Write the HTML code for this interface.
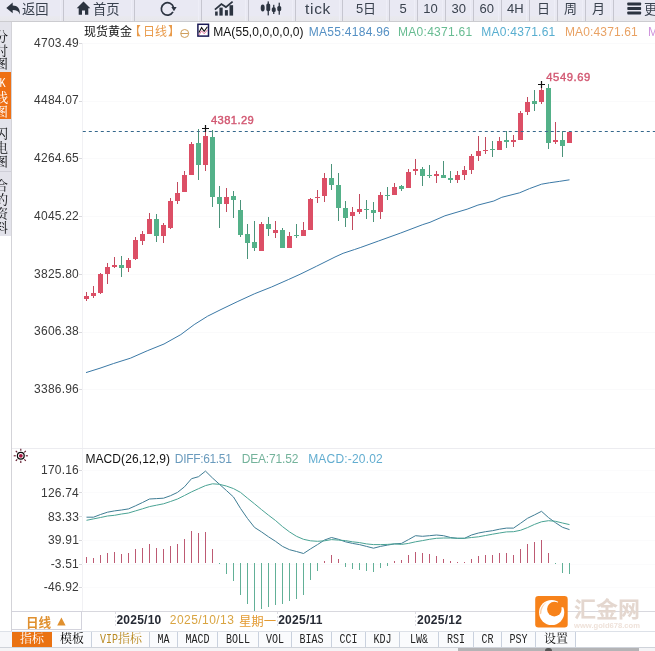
<!DOCTYPE html>
<html lang="zh"><head><meta charset="utf-8"><title>现货黄金 日线</title>
<style>
html,body{margin:0;padding:0;background:#fff}
body{font-family:"Liberation Sans",sans-serif;}
#root{position:relative;width:655px;height:651px;overflow:hidden;background:#fff;will-change:transform;font-family:"Liberation Sans",sans-serif;color:#333}
#root *{box-sizing:border-box}
.a{position:absolute;white-space:nowrap;line-height:1}
.g{position:absolute;overflow:visible}
.sep{position:absolute;top:0;width:1px;height:21px;background:#c6c6d0;box-shadow:-3px 0 0 #eeeef7}
.ax{position:absolute;right:577px;font-size:12px;line-height:12px;color:#3a3a3a;white-space:nowrap}
.tab{position:absolute;top:632px;height:15px;border-right:1px solid #c9d1de;background:#fafbfd}
.tab span{position:absolute;left:0;right:0;top:2px;text-align:center;font-family:"Liberation Mono",monospace;font-size:12px;line-height:12px;color:#222;transform:scaleX(.833);white-space:nowrap}
.ts{font-family:"Liberation Sans","Noto Sans CJK SC",sans-serif}
.tf{font-family:"Liberation Serif","Noto Serif CJK SC",serif}
</style></head><body>
<div id="root">

<div class="a" style="left:0;top:0;width:655px;height:22px;background:linear-gradient(#e9e9f3 0,#e9e9f3 15.5px,#e9e9ef 16.5px,#e8e8ec 21px,#c9c9cd 21px,#cdcdd1 21.7px,#fff 22px)"></div>
<div class="sep" style="left:63px"></div>
<div class="sep" style="left:134px"></div>
<div class="sep" style="left:201px"></div>
<div class="sep" style="left:248px"></div>
<div class="sep" style="left:295px"></div>
<div class="sep" style="left:342px"></div>
<div class="sep" style="left:389px"></div>
<div class="sep" style="left:417px"></div>
<div class="sep" style="left:445px"></div>
<div class="sep" style="left:473px"></div>
<div class="sep" style="left:501px"></div>
<div class="sep" style="left:529px"></div>
<div class="sep" style="left:557px"></div>
<div class="sep" style="left:585px"></div>
<div class="sep" style="left:613px"></div>
<svg class="g" style="left:5px;top:1px" width="17" height="15" viewBox="0 0 17 15"><path fill="#2c3440" d="M1.3 7.0 L7.7 1.4 V4.6 C12.6 4.7 15.2 7.6 14.9 13.4 C13.6 10.2 11.6 9.0 7.7 9.0 V12.3 Z"/></svg>
<svg class="g" role="img" aria-label="返回" style="left:20.2px;top:-3.13px;" width="30.6" height="22.62" viewBox="-2 -16.63 30.6 22.62"><title>返回</title><text class="ts" x="0" y="0" font-size="13.3" fill="#3a424e">返回</text></svg>
<svg class="g" style="left:76px;top:1px" width="16" height="15" viewBox="0 0 16 15"><path fill="#2c3440" d="M7.5 0.6 L14.3 7.3 H12.3 V13.8 H9 V9.6 H6 V13.8 H2.7 V7.3 H0.7 Z"/></svg>
<svg class="g" role="img" aria-label="首页" style="left:90.6px;top:-3.13px;" width="30.6" height="22.62" viewBox="-2 -16.63 30.6 22.62"><title>首页</title><text class="ts" x="0" y="0" font-size="13.3" fill="#3a424e">首页</text></svg>
<svg class="g" style="left:158px;top:0px" width="20" height="18" viewBox="0 0 20 18"><path fill="none" stroke="#2c3440" stroke-width="1.7" d="M15.0 11.9 A6.2 6.2 0 1 1 15.6 7.6"/><path fill="#2c3440" d="M13.3 6.9 L18.6 6.9 L16.0 11.2 Z"/></svg>
<svg class="g" style="left:213px;top:0px" width="22" height="18" viewBox="213 0 22 18"><g fill="#2c3440"><rect x="215.1" y="11.5" width="2.6" height="4.1"/><rect x="219.4" y="7.6" width="3.3" height="8"/><rect x="224.9" y="10.1" width="3" height="5.5"/><rect x="229.5" y="5.2" width="3.6" height="10.4"/></g><path fill="none" stroke="#2c3440" stroke-width="1.8" d="M214.9 9.6 L221.4 4.1 L225.9 7.1 L232.6 1.6"/></svg>
<svg class="g" style="left:259px;top:0px" width="24" height="18" viewBox="259 0 24 18"><g fill="#2c3440"><ellipse cx="262.7" cy="8" rx="2" ry="3.4"/><rect x="267.6" y="1.4" width="1.3" height="14"/><rect x="266.3" y="3.4" width="3.9" height="7.8" rx="1.6"/><rect x="273.1" y="4.8" width="1.3" height="9.2"/><rect x="271.8" y="7.2" width="3.9" height="4.8" rx="1.6"/><rect x="278.6" y="2.7" width="1.3" height="12"/><rect x="277.3" y="6" width="3.9" height="5.2" rx="1.6"/></g></svg>
<div class="a" style="left:305px;top:0px;font-size:15.5px;line-height:17px;color:#3a424e;letter-spacing:.7px">tick</div>
<div class="a" style="left:356px;top:2px;font-size:13px;line-height:14px;color:#3a424e">5</div>
<svg class="g" role="img" aria-label="日" style="left:360.6px;top:-3px;" width="17" height="22.2" viewBox="-2 -16.3 17 22.2"><title>日</title><text class="ts" x="0" y="0" font-size="13" fill="#3a424e">日</text></svg>
<div class="a" style="left:403px;top:2px;width:40px;margin-left:-20px;text-align:center;font-size:13px;line-height:14px;color:#3a424e">5</div>
<div class="a" style="left:430.5px;top:2px;width:40px;margin-left:-20px;text-align:center;font-size:13px;line-height:14px;color:#3a424e">10</div>
<div class="a" style="left:458.7px;top:2px;width:40px;margin-left:-20px;text-align:center;font-size:13px;line-height:14px;color:#3a424e">30</div>
<div class="a" style="left:486.7px;top:2px;width:40px;margin-left:-20px;text-align:center;font-size:13px;line-height:14px;color:#3a424e">60</div>
<div class="a" style="left:507px;top:2px;font-size:13px;line-height:14px;color:#3a424e">4H</div>
<svg class="g" role="img" aria-label="日" style="left:535px;top:-3px;" width="17" height="22.2" viewBox="-2 -16.3 17 22.2"><title>日</title><text class="ts" x="0" y="0" font-size="13" fill="#3a424e">日</text></svg>
<svg class="g" role="img" aria-label="周" style="left:561.8px;top:-3px;" width="17" height="22.2" viewBox="-2 -16.3 17 22.2"><title>周</title><text class="ts" x="0" y="0" font-size="13" fill="#3a424e">周</text></svg>
<svg class="g" role="img" aria-label="月" style="left:590.4px;top:-3px;" width="17" height="22.2" viewBox="-2 -16.3 17 22.2"><title>月</title><text class="ts" x="0" y="0" font-size="13" fill="#3a424e">月</text></svg>
<svg class="g" style="left:627px;top:2px" width="15" height="13" viewBox="0 0 15 13"><g fill="#2c3440"><rect x="0.3" y="0.6" width="13.8" height="2.9" rx=".7"/><rect x="0.3" y="5.05" width="13.8" height="2.9" rx=".7"/><rect x="0.3" y="9.5" width="13.8" height="2.9" rx=".7"/></g></svg>
<svg class="g" role="img" aria-label="更" style="left:642.2px;top:-3.13px;" width="17.3" height="22.62" viewBox="-2 -16.63 17.3 22.62"><title>更</title><text class="ts" x="0" y="0" font-size="13.3" fill="#3a424e">更</text></svg>
<div class="a" style="left:0;top:22px;width:11px;height:214px;background:#e3e3eb"></div>
<div class="a" style="left:0;top:72px;width:11px;height:47px;background:#ee7014"></div>
<div class="a" style="left:0;top:171px;width:11px;height:1px;background:#cfcfd8"></div>
<div class="a" style="left:11px;top:22px;width:1px;height:626px;background:#d3d3d8"></div>
<svg class="g" role="img" aria-label="分时图" style="left:-7px;top:24.7px;" width="17" height="44.5" viewBox="-2 -16.3 17 44.5"><title>分时图</title><text class="tf" font-size="13" fill="#0c0d10"><tspan x="0" y="0">分</tspan><tspan x="0" y="13.5">时</tspan><tspan x="0" y="27">图</tspan></text></svg>
<svg class="g" role="img" aria-label="线图" style="left:-7px;top:85.7px;" width="17" height="31" viewBox="-2 -16.3 17 31"><title>线图</title><text class="tf" font-size="13" fill="#fff"><tspan x="0" y="0">线</tspan><tspan x="0" y="13.5">图</tspan></text></svg>
<div class="a" style="left:-1px;top:78px;font-family:'Liberation Mono',monospace;font-size:12px;color:#fff;transform:scaleX(.85)">K</div>
<svg class="g" role="img" aria-label="闪电图" style="left:-7px;top:121.7px;" width="17" height="46" viewBox="-2 -16.3 17 46"><title>闪电图</title><text class="tf" font-size="13" fill="#0c0d10"><tspan x="0" y="0">闪</tspan><tspan x="0" y="14">电</tspan><tspan x="0" y="28">图</tspan></text></svg>
<svg class="g" role="img" aria-label="合约资料" style="left:-7px;top:173.7px;" width="17" height="60" viewBox="-2 -16.3 17 60"><title>合约资料</title><text class="tf" font-size="13" fill="#0c0d10"><tspan x="0" y="0">合</tspan><tspan x="0" y="14">约</tspan><tspan x="0" y="28">资</tspan><tspan x="0" y="42">料</tspan></text></svg>
<svg class="g" style="left:0;top:0" width="655" height="651" viewBox="0 0 655 651" shape-rendering="crispEdges">
<rect x="82" y="43" width="573" height="1" fill="#fafafb"/>
<rect x="79" y="43" width="3" height="1" fill="#d8d8dc"/>
<rect x="82" y="101" width="573" height="1" fill="#fafafb"/>
<rect x="79" y="101" width="3" height="1" fill="#d8d8dc"/>
<rect x="82" y="158" width="573" height="1" fill="#fafafb"/>
<rect x="79" y="158" width="3" height="1" fill="#d8d8dc"/>
<rect x="82" y="216" width="573" height="1" fill="#fafafb"/>
<rect x="79" y="216" width="3" height="1" fill="#d8d8dc"/>
<rect x="82" y="274" width="573" height="1" fill="#fafafb"/>
<rect x="79" y="274" width="3" height="1" fill="#d8d8dc"/>
<rect x="82" y="332" width="573" height="1" fill="#fafafb"/>
<rect x="79" y="332" width="3" height="1" fill="#d8d8dc"/>
<rect x="82" y="389" width="573" height="1" fill="#fafafb"/>
<rect x="79" y="389" width="3" height="1" fill="#d8d8dc"/>
<rect x="82" y="43" width="1" height="568" fill="#f1f1f4"/>
<rect x="12" y="448" width="643" height="1" fill="#ececf0"/>
<rect x="12" y="611" width="643" height="1" fill="#d8d8de"/>
<rect x="82" y="470" width="573" height="1" fill="#fbfbfc"/>
<rect x="79" y="470" width="3" height="1" fill="#d8d8dc"/>
<rect x="82" y="492" width="573" height="1" fill="#fbfbfc"/>
<rect x="79" y="492" width="3" height="1" fill="#d8d8dc"/>
<rect x="82" y="516" width="573" height="1" fill="#fbfbfc"/>
<rect x="79" y="516" width="3" height="1" fill="#d8d8dc"/>
<rect x="82" y="540" width="573" height="1" fill="#fbfbfc"/>
<rect x="79" y="540" width="3" height="1" fill="#d8d8dc"/>
<rect x="82" y="564" width="573" height="1" fill="#fbfbfc"/>
<rect x="79" y="564" width="3" height="1" fill="#d8d8dc"/>
<rect x="82" y="587" width="573" height="1" fill="#fbfbfc"/>
<rect x="79" y="587" width="3" height="1" fill="#d8d8dc"/>
<path d="M115.5 612V627" stroke="#dcdce2" stroke-width="1" stroke-dasharray="2 2" fill="none"/>
<path d="M277.5 612V627" stroke="#dcdce2" stroke-width="1" stroke-dasharray="2 2" fill="none"/>
<path d="M415.5 612V627" stroke="#dcdce2" stroke-width="1" stroke-dasharray="2 2" fill="none"/>
<rect x="86" y="292" width="1" height="9" fill="#c24a5e"/>
<rect x="84" y="296" width="5" height="3" fill="#dc4f66"/>
<rect x="93" y="286" width="1" height="12" fill="#c24a5e"/>
<rect x="91" y="293" width="5" height="3" fill="#dc4f66"/>
<rect x="100" y="273" width="1" height="21" fill="#c24a5e"/>
<rect x="98" y="274" width="5" height="19" fill="#dc4f66"/>
<rect x="107" y="263" width="1" height="21" fill="#c24a5e"/>
<rect x="105" y="267" width="5" height="7" fill="#dc4f66"/>
<rect x="114" y="257" width="1" height="11" fill="#c24a5e"/>
<rect x="112" y="265" width="5" height="2" fill="#dc4f66"/>
<rect x="121" y="256" width="1" height="21" fill="#4b937a"/>
<rect x="119" y="265" width="5" height="3" fill="#54b189"/>
<rect x="128" y="258" width="1" height="14" fill="#c24a5e"/>
<rect x="126" y="260" width="5" height="8" fill="#dc4f66"/>
<rect x="135" y="237" width="1" height="23" fill="#c24a5e"/>
<rect x="133" y="240" width="5" height="19" fill="#dc4f66"/>
<rect x="142" y="231" width="1" height="14" fill="#c24a5e"/>
<rect x="140" y="234" width="5" height="7" fill="#dc4f66"/>
<rect x="149" y="213" width="1" height="21" fill="#c24a5e"/>
<rect x="147" y="219" width="5" height="15" fill="#dc4f66"/>
<rect x="156" y="214" width="1" height="28" fill="#4b937a"/>
<rect x="154" y="219" width="5" height="17" fill="#54b189"/>
<rect x="163" y="223" width="1" height="20" fill="#c24a5e"/>
<rect x="161" y="225" width="5" height="11" fill="#dc4f66"/>
<rect x="170" y="198" width="1" height="31" fill="#c24a5e"/>
<rect x="168" y="201" width="5" height="27" fill="#dc4f66"/>
<rect x="177" y="182" width="1" height="22" fill="#c24a5e"/>
<rect x="175" y="193" width="5" height="8" fill="#dc4f66"/>
<rect x="184" y="171" width="1" height="21" fill="#c24a5e"/>
<rect x="182" y="175" width="5" height="17" fill="#dc4f66"/>
<rect x="191" y="142" width="1" height="33" fill="#c24a5e"/>
<rect x="189" y="144" width="5" height="31" fill="#dc4f66"/>
<rect x="198" y="129" width="1" height="51" fill="#4b937a"/>
<rect x="196" y="143" width="5" height="22" fill="#54b189"/>
<rect x="205" y="128" width="1" height="43" fill="#c24a5e"/>
<rect x="203" y="136" width="5" height="29" fill="#dc4f66"/>
<rect x="212" y="130" width="1" height="77" fill="#4b937a"/>
<rect x="210" y="137" width="5" height="60" fill="#54b189"/>
<rect x="219" y="186" width="1" height="42" fill="#4b937a"/>
<rect x="217" y="197" width="5" height="7" fill="#54b189"/>
<rect x="226" y="188" width="1" height="24" fill="#c24a5e"/>
<rect x="224" y="197" width="5" height="7" fill="#dc4f66"/>
<rect x="233" y="191" width="1" height="27" fill="#4b937a"/>
<rect x="231" y="196" width="5" height="4" fill="#54b189"/>
<rect x="240" y="200" width="1" height="37" fill="#4b937a"/>
<rect x="238" y="210" width="5" height="25" fill="#54b189"/>
<rect x="247" y="224" width="1" height="35" fill="#4b937a"/>
<rect x="245" y="234" width="5" height="9" fill="#54b189"/>
<rect x="254" y="221" width="1" height="30" fill="#4b937a"/>
<rect x="252" y="242" width="5" height="6" fill="#54b189"/>
<rect x="261" y="222" width="1" height="29" fill="#c24a5e"/>
<rect x="259" y="224" width="5" height="27" fill="#dc4f66"/>
<rect x="268" y="217" width="1" height="19" fill="#4b937a"/>
<rect x="266" y="224" width="5" height="5" fill="#54b189"/>
<rect x="275" y="221" width="1" height="17" fill="#c24a5e"/>
<rect x="273" y="230" width="5" height="3" fill="#dc4f66"/>
<rect x="282" y="228" width="1" height="20" fill="#4b937a"/>
<rect x="280" y="230" width="5" height="18" fill="#54b189"/>
<rect x="289" y="232" width="1" height="16" fill="#c24a5e"/>
<rect x="287" y="236" width="5" height="12" fill="#dc4f66"/>
<rect x="296" y="224" width="1" height="14" fill="#4b937a"/>
<rect x="294" y="235" width="5" height="1" fill="#54b189"/>
<rect x="303" y="222" width="1" height="14" fill="#c24a5e"/>
<rect x="301" y="230" width="5" height="6" fill="#dc4f66"/>
<rect x="310" y="198" width="1" height="32" fill="#c24a5e"/>
<rect x="308" y="199" width="5" height="31" fill="#dc4f66"/>
<rect x="317" y="190" width="1" height="13" fill="#c24a5e"/>
<rect x="315" y="197" width="5" height="1" fill="#dc4f66"/>
<rect x="324" y="173" width="1" height="29" fill="#c24a5e"/>
<rect x="322" y="178" width="5" height="18" fill="#dc4f66"/>
<rect x="331" y="164" width="1" height="26" fill="#4b937a"/>
<rect x="329" y="178" width="5" height="7" fill="#54b189"/>
<rect x="338" y="173" width="1" height="48" fill="#4b937a"/>
<rect x="336" y="185" width="5" height="23" fill="#54b189"/>
<rect x="345" y="201" width="1" height="26" fill="#4b937a"/>
<rect x="343" y="208" width="5" height="10" fill="#54b189"/>
<rect x="352" y="207" width="1" height="23" fill="#c24a5e"/>
<rect x="350" y="212" width="5" height="4" fill="#dc4f66"/>
<rect x="359" y="194" width="1" height="20" fill="#c24a5e"/>
<rect x="357" y="209" width="5" height="3" fill="#dc4f66"/>
<rect x="366" y="200" width="1" height="19" fill="#4b937a"/>
<rect x="364" y="209" width="5" height="1" fill="#54b189"/>
<rect x="373" y="202" width="1" height="20" fill="#4b937a"/>
<rect x="371" y="210" width="5" height="3" fill="#54b189"/>
<rect x="380" y="192" width="1" height="27" fill="#c24a5e"/>
<rect x="378" y="195" width="5" height="17" fill="#dc4f66"/>
<rect x="387" y="187" width="1" height="13" fill="#4b937a"/>
<rect x="385" y="195" width="5" height="1" fill="#54b189"/>
<rect x="394" y="183" width="1" height="12" fill="#c24a5e"/>
<rect x="392" y="187" width="5" height="8" fill="#dc4f66"/>
<rect x="401" y="185" width="1" height="6" fill="#4b937a"/>
<rect x="399" y="186" width="5" height="3" fill="#54b189"/>
<rect x="408" y="169" width="1" height="19" fill="#c24a5e"/>
<rect x="406" y="172" width="5" height="16" fill="#dc4f66"/>
<rect x="415" y="159" width="1" height="16" fill="#c24a5e"/>
<rect x="413" y="169" width="5" height="2" fill="#dc4f66"/>
<rect x="422" y="167" width="1" height="19" fill="#4b937a"/>
<rect x="420" y="169" width="5" height="7" fill="#54b189"/>
<rect x="429" y="165" width="1" height="13" fill="#4b937a"/>
<rect x="427" y="175" width="5" height="1" fill="#54b189"/>
<rect x="436" y="171" width="1" height="12" fill="#c24a5e"/>
<rect x="434" y="174" width="5" height="2" fill="#dc4f66"/>
<rect x="443" y="161" width="1" height="17" fill="#4b937a"/>
<rect x="441" y="175" width="5" height="3" fill="#54b189"/>
<rect x="450" y="171" width="1" height="12" fill="#4b937a"/>
<rect x="448" y="178" width="5" height="2" fill="#54b189"/>
<rect x="457" y="171" width="1" height="12" fill="#c24a5e"/>
<rect x="455" y="175" width="5" height="5" fill="#dc4f66"/>
<rect x="464" y="166" width="1" height="14" fill="#c24a5e"/>
<rect x="462" y="170" width="5" height="5" fill="#dc4f66"/>
<rect x="471" y="154" width="1" height="20" fill="#c24a5e"/>
<rect x="469" y="156" width="5" height="14" fill="#dc4f66"/>
<rect x="478" y="136" width="1" height="25" fill="#c24a5e"/>
<rect x="476" y="151" width="5" height="5" fill="#dc4f66"/>
<rect x="485" y="137" width="1" height="17" fill="#c24a5e"/>
<rect x="483" y="150" width="5" height="1" fill="#dc4f66"/>
<rect x="492" y="141" width="1" height="16" fill="#4b937a"/>
<rect x="490" y="149" width="5" height="1" fill="#54b189"/>
<rect x="499" y="137" width="1" height="13" fill="#c24a5e"/>
<rect x="497" y="141" width="5" height="9" fill="#dc4f66"/>
<rect x="506" y="131" width="1" height="17" fill="#4b937a"/>
<rect x="504" y="140" width="5" height="2" fill="#54b189"/>
<rect x="513" y="135" width="1" height="12" fill="#c24a5e"/>
<rect x="511" y="140" width="5" height="2" fill="#dc4f66"/>
<rect x="520" y="111" width="1" height="29" fill="#c24a5e"/>
<rect x="518" y="113" width="5" height="27" fill="#dc4f66"/>
<rect x="527" y="97" width="1" height="18" fill="#c24a5e"/>
<rect x="525" y="102" width="5" height="10" fill="#dc4f66"/>
<rect x="534" y="90" width="1" height="21" fill="#4b937a"/>
<rect x="532" y="101" width="5" height="3" fill="#54b189"/>
<rect x="541" y="85" width="1" height="19" fill="#c24a5e"/>
<rect x="539" y="90" width="5" height="12" fill="#dc4f66"/>
<rect x="548" y="84" width="1" height="65" fill="#4b937a"/>
<rect x="546" y="88" width="5" height="55" fill="#54b189"/>
<rect x="555" y="122" width="1" height="22" fill="#c24a5e"/>
<rect x="553" y="140" width="5" height="2" fill="#dc4f66"/>
<rect x="562" y="131" width="1" height="26" fill="#4b937a"/>
<rect x="560" y="140" width="5" height="6" fill="#54b189"/>
<rect x="569" y="131" width="1" height="12" fill="#c24a5e"/>
<rect x="567" y="132" width="5" height="11" fill="#dc4f66"/>
<rect x="86" y="557" width="1" height="6" fill="#bd5a73"/>
<rect x="93" y="558" width="1" height="5" fill="#bd5a73"/>
<rect x="100" y="555" width="1" height="8" fill="#bd5a73"/>
<rect x="107" y="553" width="1" height="10" fill="#bd5a73"/>
<rect x="114" y="552" width="1" height="11" fill="#bd5a73"/>
<rect x="121" y="554" width="1" height="9" fill="#bd5a73"/>
<rect x="128" y="553" width="1" height="10" fill="#bd5a73"/>
<rect x="135" y="549" width="1" height="14" fill="#bd5a73"/>
<rect x="142" y="548" width="1" height="15" fill="#bd5a73"/>
<rect x="149" y="544" width="1" height="19" fill="#bd5a73"/>
<rect x="156" y="548" width="1" height="15" fill="#bd5a73"/>
<rect x="163" y="549" width="1" height="14" fill="#bd5a73"/>
<rect x="170" y="546" width="1" height="17" fill="#bd5a73"/>
<rect x="177" y="544" width="1" height="19" fill="#bd5a73"/>
<rect x="184" y="539" width="1" height="24" fill="#bd5a73"/>
<rect x="191" y="531" width="1" height="32" fill="#bd5a73"/>
<rect x="198" y="533" width="1" height="30" fill="#bd5a73"/>
<rect x="205" y="532" width="1" height="31" fill="#bd5a73"/>
<rect x="212" y="549" width="1" height="14" fill="#bd5a73"/>
<rect x="219" y="563" width="1" height="1" fill="#62b097"/>
<rect x="226" y="563" width="1" height="11" fill="#62b097"/>
<rect x="233" y="563" width="1" height="18" fill="#62b097"/>
<rect x="240" y="563" width="1" height="32" fill="#62b097"/>
<rect x="247" y="563" width="1" height="41" fill="#62b097"/>
<rect x="254" y="563" width="1" height="48" fill="#62b097"/>
<rect x="261" y="563" width="1" height="46" fill="#62b097"/>
<rect x="268" y="563" width="1" height="44" fill="#62b097"/>
<rect x="275" y="563" width="1" height="42" fill="#62b097"/>
<rect x="282" y="563" width="1" height="41" fill="#62b097"/>
<rect x="289" y="563" width="1" height="38" fill="#62b097"/>
<rect x="296" y="563" width="1" height="36" fill="#62b097"/>
<rect x="303" y="563" width="1" height="32" fill="#62b097"/>
<rect x="310" y="563" width="1" height="17" fill="#62b097"/>
<rect x="317" y="563" width="1" height="8" fill="#62b097"/>
<rect x="324" y="561" width="1" height="2" fill="#bd5a73"/>
<rect x="331" y="555" width="1" height="8" fill="#bd5a73"/>
<rect x="338" y="559" width="1" height="4" fill="#bd5a73"/>
<rect x="345" y="563" width="1" height="4" fill="#62b097"/>
<rect x="352" y="563" width="1" height="6" fill="#62b097"/>
<rect x="359" y="563" width="1" height="7" fill="#62b097"/>
<rect x="366" y="563" width="1" height="8" fill="#62b097"/>
<rect x="373" y="563" width="1" height="9" fill="#62b097"/>
<rect x="380" y="563" width="1" height="5" fill="#62b097"/>
<rect x="387" y="563" width="1" height="3" fill="#62b097"/>
<rect x="394" y="561" width="1" height="2" fill="#bd5a73"/>
<rect x="401" y="560" width="1" height="3" fill="#bd5a73"/>
<rect x="408" y="555" width="1" height="8" fill="#bd5a73"/>
<rect x="415" y="552" width="1" height="11" fill="#bd5a73"/>
<rect x="422" y="553" width="1" height="10" fill="#bd5a73"/>
<rect x="429" y="554" width="1" height="9" fill="#bd5a73"/>
<rect x="436" y="556" width="1" height="7" fill="#bd5a73"/>
<rect x="443" y="559" width="1" height="4" fill="#bd5a73"/>
<rect x="450" y="561" width="1" height="2" fill="#bd5a73"/>
<rect x="457" y="562" width="1" height="1" fill="#bd5a73"/>
<rect x="464" y="562" width="1" height="1" fill="#bd5a73"/>
<rect x="471" y="559" width="1" height="4" fill="#bd5a73"/>
<rect x="478" y="556" width="1" height="7" fill="#bd5a73"/>
<rect x="485" y="555" width="1" height="8" fill="#bd5a73"/>
<rect x="492" y="555" width="1" height="8" fill="#bd5a73"/>
<rect x="499" y="553" width="1" height="10" fill="#bd5a73"/>
<rect x="506" y="553" width="1" height="10" fill="#bd5a73"/>
<rect x="513" y="555" width="1" height="8" fill="#bd5a73"/>
<rect x="520" y="549" width="1" height="14" fill="#bd5a73"/>
<rect x="527" y="544" width="1" height="19" fill="#bd5a73"/>
<rect x="534" y="542" width="1" height="21" fill="#bd5a73"/>
<rect x="541" y="540" width="1" height="23" fill="#bd5a73"/>
<rect x="548" y="553" width="1" height="10" fill="#bd5a73"/>
<rect x="555" y="563" width="1" height="1" fill="#62b097"/>
<rect x="562" y="563" width="1" height="10" fill="#62b097"/>
<rect x="569" y="563" width="1" height="11" fill="#62b097"/>
</svg>
<svg class="g" style="left:0;top:0" width="655" height="651" viewBox="0 0 655 651">
<path d="M82.8 131.5H655" stroke="#35688c" stroke-width="1" stroke-dasharray="3 3" fill="none"/>
<polyline fill="none" stroke="#3b79a6" stroke-width="1" points="86,372.6 100,368.2 113.6,363.5 130.4,358.2 147.2,350.8 164,344 180.8,334.6 194.2,324.6 207.6,316.2 221,309.5 237.9,301.4 254.7,293.7 271.5,287 288.3,279.6 300,274.3 316.6,266.2 335,257 343.1,253.3 354.6,249.5 360.8,247.4 378.5,241 400.7,233 422.8,224.6 430,222.3 444.9,215.8 467.1,209.2 477.9,205.1 493.8,201 501.8,197.3 519.6,192.8 529.5,188.6 541.5,184.2 549.4,182.8 559.3,181.4 569.5,179.8"/>
<polyline fill="none" stroke="#3f7d94" stroke-width="1" points="86.5,517.2 93.5,517.2 100.5,514.5 107.5,512.2 114.5,510.9 121.5,510 128.5,508.9 135.5,505.8 142.5,502.5 149.5,499 156.5,498.6 163.5,498.2 170.5,495.7 177.5,492.4 184.5,486.8 191.5,478.7 198.5,476.7 205.5,471.1 212.5,478 219.5,484.3 226.5,490.6 233.5,497 240.5,508.4 247.5,518.5 254.5,527.4 261.5,531.9 268.5,536.8 275.5,541.3 282.5,546.4 289.5,549.7 296.5,551.5 303.5,553.5 310.5,548.9 317.5,544.6 324.5,540 331.5,537.5 338.5,539.3 345.5,541.8 352.5,543.4 359.5,544.6 366.5,546.4 373.5,548.2 380.5,546.4 387.5,545.1 394.5,543.9 401.5,543.4 408.5,539.6 415.5,535.7 422.5,536.3 429.5,535.7 436.5,535 443.5,535.7 450.5,537.5 457.5,538.3 464.5,538.3 471.5,535 478.5,533 485.5,531.7 492.5,530.7 499.5,529.2 506.5,528.1 513.5,528.1 520.5,523.3 527.5,518.3 534.5,514.9 541.5,511.3 548.5,517.6 555.5,522.7 562.5,527.3 569.5,529.6"/>
<polyline fill="none" stroke="#4aa394" stroke-width="1" points="86.5,520.3 93.5,518.9 100.5,517.5 107.5,516 114.5,515.3 121.5,514 128.5,513 135.5,510.9 142.5,508.8 149.5,506.6 156.5,505.2 163.5,503.8 170.5,501.5 177.5,499 184.5,495.5 191.5,491.9 198.5,488.7 205.5,485.6 212.5,483.8 219.5,484.3 226.5,486.1 233.5,488.6 240.5,492.4 247.5,498.2 254.5,503.8 261.5,509.6 268.5,515.2 275.5,520.5 282.5,526.6 289.5,531.9 296.5,536.3 303.5,539.3 310.5,540.8 317.5,541.3 324.5,540.8 331.5,539.6 338.5,540.1 345.5,540.6 352.5,541.8 359.5,542.6 366.5,543.9 373.5,544.6 380.5,544.6 387.5,544.4 394.5,543.9 401.5,544.4 408.5,543.4 415.5,541.8 422.5,540.6 429.5,539.3 436.5,538.3 443.5,538 450.5,538 457.5,538.3 464.5,538.3 471.5,537.5 478.5,536.8 485.5,535.5 492.5,534.2 499.5,533 506.5,531.9 513.5,531.7 520.5,530.3 527.5,527.6 534.5,524.4 541.5,521.8 548.5,520.7 555.5,521.3 562.5,523 569.5,524.6"/>
<path d="M202 128.5H209M205.5 125V132" stroke="#111" stroke-width="1.2" fill="none"/>
<path d="M538 84.5H545M541.5 81V88" stroke="#111" stroke-width="1.2" fill="none"/>
<g transform="translate(20.8 455.8)"><circle r="3.4" fill="#fff" stroke="#0c0c0c" stroke-width="1.25"/><circle r="1.9" fill="#a4163f"/><g stroke="#5a1226" stroke-width="1.1"><line x1="0" y1="-5.0" x2="0" y2="-7.1" transform="rotate(0)"/><line x1="0" y1="-5.0" x2="0" y2="-7.1" transform="rotate(45)"/><line x1="0" y1="-5.0" x2="0" y2="-7.1" transform="rotate(90)"/><line x1="0" y1="-5.0" x2="0" y2="-7.1" transform="rotate(135)"/><line x1="0" y1="-5.0" x2="0" y2="-7.1" transform="rotate(180)"/><line x1="0" y1="-5.0" x2="0" y2="-7.1" transform="rotate(225)"/><line x1="0" y1="-5.0" x2="0" y2="-7.1" transform="rotate(270)"/><line x1="0" y1="-5.0" x2="0" y2="-7.1" transform="rotate(315)"/></g></g>
<g fill="none" stroke="#cf9e5c" stroke-width="1"><circle cx="184.7" cy="33.5" r="4"/><path d="M180.8 33.5H188.6"/></g>
<rect x="197.9" y="24.3" width="10.6" height="11.8" fill="#fff" stroke="#1b1a55" stroke-width="1.5"/><path d="M199 32.6L201.6 27.6L204.2 31.2L207.4 26.8" stroke="#111" stroke-width="1.1" fill="none"/><path d="M199 35L201.6 30.8L204.2 33.8L207.4 30" stroke="#e05a8a" stroke-width=".8" fill="none"/>
</svg>
<div class="a" style="left:34.12px;top:36.5px;font-size:12px;line-height:12px;letter-spacing:0.217px;color:#3a3a3a">4703.49</div>
<div class="a" style="left:34.12px;top:94.3px;font-size:12px;line-height:12px;letter-spacing:0.217px;color:#3a3a3a">4484.07</div>
<div class="a" style="left:34.12px;top:152px;font-size:12px;line-height:12px;letter-spacing:0.217px;color:#3a3a3a">4264.65</div>
<div class="a" style="left:34.12px;top:209.8px;font-size:12px;line-height:12px;letter-spacing:0.217px;color:#3a3a3a">4045.22</div>
<div class="a" style="left:34.12px;top:267.6px;font-size:12px;line-height:12px;letter-spacing:0.217px;color:#3a3a3a">3825.80</div>
<div class="a" style="left:34.12px;top:325.3px;font-size:12px;line-height:12px;letter-spacing:0.217px;color:#3a3a3a">3606.38</div>
<div class="a" style="left:34.12px;top:383.1px;font-size:12px;line-height:12px;letter-spacing:0.217px;color:#3a3a3a">3386.96</div>
<div class="a" style="left:40.99px;top:463.7px;font-size:12px;line-height:12px;letter-spacing:0.220px;color:#3a3a3a">170.16</div>
<div class="a" style="left:40.99px;top:486.7px;font-size:12px;line-height:12px;letter-spacing:0.220px;color:#3a3a3a">126.74</div>
<div class="a" style="left:47.88px;top:510.7px;font-size:12px;line-height:12px;letter-spacing:0.225px;color:#3a3a3a">83.33</div>
<div class="a" style="left:47.88px;top:533.7px;font-size:12px;line-height:12px;letter-spacing:0.225px;color:#3a3a3a">39.91</div>
<div class="a" style="left:50.63px;top:557.9px;font-size:12px;line-height:12px;letter-spacing:0.205px;color:#3a3a3a">-3.51</div>
<div class="a" style="left:43.76px;top:581.2px;font-size:12px;line-height:12px;letter-spacing:0.204px;color:#3a3a3a">-46.92</div>
<svg class="g" role="img" aria-label="现货黄金" style="left:82px;top:21.1px;" width="52" height="20.8" viewBox="-2 -15.2 52 20.8"><title>现货黄金</title><text class="ts" x="0" y="0" font-size="12" fill="#111">现货黄金</text></svg>
<svg class="g" role="img" aria-label="【" style="left:127.4px;top:21.1px;" width="16" height="20.8" viewBox="-2 -15.2 16 20.8"><title>【</title><text class="ts" x="0" y="0" font-size="12" fill="#e99a4a">【</text></svg>
<svg class="g" role="img" aria-label="日线" style="left:140.9px;top:21.1px;" width="28" height="20.8" viewBox="-2 -15.2 28 20.8"><title>日线</title><text class="ts" x="0" y="0" font-size="12" fill="#e99a4a">日线</text></svg>
<svg class="g" role="img" aria-label="】" style="left:166.3px;top:21.1px;" width="16" height="20.8" viewBox="-2 -15.2 16 20.8"><title>】</title><text class="ts" x="0" y="0" font-size="12" fill="#e99a4a">】</text></svg>
<div class="a" style="left:213.20px;top:24.6px;font-size:12px;line-height:14px;letter-spacing:0.068px;color:#111;">MA(55,0,0,0,0,0)</div>
<div class="a" style="left:308.80px;top:24.6px;font-size:12px;line-height:14px;letter-spacing:0.267px;color:#5590c4;">MA55:4184.96</div>
<div class="a" style="left:398.00px;top:24.6px;font-size:12px;line-height:14px;letter-spacing:0.281px;color:#68bc92;">MA0:4371.61</div>
<div class="a" style="left:481.30px;top:24.6px;font-size:12px;line-height:14px;letter-spacing:0.261px;color:#58aed0;">MA0:4371.61</div>
<div class="a" style="left:564.90px;top:24.6px;font-size:12px;line-height:14px;letter-spacing:0.151px;color:#e9a264;">MA0:4371.61</div>
<div class="a" style="left:648.00px;top:24.6px;font-size:12px;line-height:14px;letter-spacing:0.261px;color:#cf95dc;">MA0:4371.61</div>
<div class="a" style="left:210.90px;top:113.1px;font-size:11.2px;line-height:14px;letter-spacing:0.402px;color:#d25872;-webkit-text-stroke:.4px #d25872;">4381.29</div>
<div class="a" style="left:546.30px;top:69.6px;font-size:11.2px;line-height:14px;letter-spacing:0.569px;color:#d25872;-webkit-text-stroke:.4px #d25872;">4549.69</div>
<div class="a" style="left:85.40px;top:452.4px;font-size:12px;line-height:14px;letter-spacing:0.095px;color:#111;">MACD(26,12,9)</div>
<div class="a" style="left:174.80px;top:452.4px;font-size:12px;line-height:14px;letter-spacing:-0.325px;color:#6a9bbd;">DIFF:61.51</div>
<div class="a" style="left:241.70px;top:452.4px;font-size:12px;line-height:14px;letter-spacing:-0.167px;color:#74b39b;">DEA:71.52</div>
<div class="a" style="left:308.20px;top:452.4px;font-size:12px;line-height:14px;letter-spacing:0.180px;color:#62add0;">MACD:-20.02</div>
<div class="a" style="left:12px;top:611px;width:70px;height:19px;border:1px solid #d3d3dc;border-left:none;background:#fff"></div>
<svg class="g" role="img" aria-label="日线" style="left:24.2px;top:610.94px;" width="29.2" height="21.64" viewBox="-2 -15.86 29.2 21.64"><title>日线</title><text class="ts" x="0" y="0" font-size="12.6" font-weight="bold" fill="#e0902f">日线</text></svg>
<svg class="g" style="left:56.5px;top:616.5px" width="9" height="9" viewBox="0 0 9 9"><path d="M4.4 0.6L8.6 8.4H0.2Z" fill="#e0902f"/></svg>
<div class="a" style="left:116.4px;top:613.6px;font-size:12px;line-height:12px;font-weight:bold;letter-spacing:.25px;color:#262a34">2025/10</div>
<div class="a" style="left:278.2px;top:613.6px;font-size:12px;line-height:12px;font-weight:bold;letter-spacing:.25px;color:#262a34">2025/11</div>
<div class="a" style="left:417px;top:613.6px;font-size:12px;line-height:12px;font-weight:bold;letter-spacing:.25px;color:#262a34">2025/12</div>
<div class="a" style="left:169.8px;top:613.6px;font-size:12px;line-height:12px;color:#d9a441;letter-spacing:.45px">2025/10/13</div>
<svg class="g" role="img" aria-label="星期一" style="left:237px;top:609.56px;" width="41.2" height="21.36" viewBox="-2 -15.64 41.2 21.36"><title>星期一</title><text class="ts" x="0" y="0" font-size="12.4" fill="#e39a32">星期一</text></svg>
<div class="a" style="left:0;top:631px;width:655px;height:1px;background:#dde1e8"></div>
<div class="a" style="left:0;top:647px;width:655px;height:1px;background:#cfd3da"></div>
<div class="a" style="left:0;top:632px;width:12px;height:15px;background:#f6f7fa"></div>
<div class="tab" style="left:12px;width:40px;background:#ea7212;border-right:none"></div>
<svg class="g" role="img" aria-label="指标" style="left:18.2px;top:628px;" width="28" height="20.8" viewBox="-2 -15.2 28 20.8"><title>指标</title><text class="tf" x="0" y="0" font-size="12" fill="#fff">指标</text></svg>
<div class="tab" style="left:52px;width:40px;"></div>
<svg class="g" role="img" aria-label="模板" style="left:58.3px;top:628px;" width="28" height="20.8" viewBox="-2 -15.2 28 20.8"><title>模板</title><text class="tf" x="0" y="0" font-size="12" fill="#000">模板</text></svg>
<div class="tab" style="left:92px;width:58px;background:#fcfcfd"></div>
<div class="a" style="left:99.5px;top:634px;font-family:'Liberation Mono',monospace;font-size:12px;line-height:12px;color:#b98a22;transform:scaleX(.833);transform-origin:0 0">VIP</div>
<svg class="g" role="img" aria-label="指标" style="left:115.6px;top:628px;" width="28" height="20.8" viewBox="-2 -15.2 28 20.8"><title>指标</title><text class="tf" x="0" y="0" font-size="12" fill="#b98a22">指标</text></svg>
<div class="tab" style="left:150px;width:28px"><span>MA</span></div>
<div class="tab" style="left:178px;width:40px"><span>MACD</span></div>
<div class="tab" style="left:218px;width:41px"><span>BOLL</span></div>
<div class="tab" style="left:259px;width:33px"><span>VOL</span></div>
<div class="tab" style="left:292px;width:40px"><span>BIAS</span></div>
<div class="tab" style="left:332px;width:34px"><span>CCI</span></div>
<div class="tab" style="left:366px;width:34px"><span>KDJ</span></div>
<div class="tab" style="left:400px;width:39px"><span>LW&amp;</span></div>
<div class="tab" style="left:439px;width:35px"><span>RSI</span></div>
<div class="tab" style="left:474px;width:28px"><span>CR</span></div>
<div class="tab" style="left:502px;width:34px"><span>PSY</span></div>
<div class="tab" style="left:536px;width:40px"></div>
<svg class="g" role="img" aria-label="设置" style="left:542.1px;top:628px;" width="28" height="20.8" viewBox="-2 -15.2 28 20.8"><title>设置</title><text class="tf" x="0" y="0" font-size="12" fill="#000">设置</text></svg>
<div class="a" style="left:576px;top:632px;width:79px;height:15px;background:#fff"></div>
<div class="a" style="left:0;top:648px;width:655px;height:3px;background:#f4f4f6"></div>
<div class="a" style="left:458px;top:648px;width:181px;height:3px;background:#b4b4b6"></div>
<div class="a" style="left:545px;top:648px;width:7px;height:3px;background:#555;border-radius:3px 3px 0 0"></div>
<svg class="g" style="left:534px;top:595px" width="35" height="34" viewBox="0 0 35 34"><rect x="1.2" y="1.1" width="32.5" height="31.3" rx="3.2" fill="#f7821a"/><circle cx="17.66" cy="17.52" r="12.6" fill="#fff"/><path d="M20.34 14.08L26.0 3.6L33 11.2Z" fill="#f7821a"/><circle cx="20.34" cy="14.08" r="7.3" fill="#f7821a"/><path d="M5.9 19.5C5.6 13.5 8.6 9.2 12.6 7.2C9.6 9.6 7.4 13.6 7.3 18.4Z" fill="#f7a55c" opacity=".55"/></svg>
<svg class="g" role="img" aria-label="汇金网" style="left:571.6px;top:590.6px;" width="70" height="34.8" viewBox="-2 -26.2 70 34.8"><title>汇金网</title><text class="ts" x="0" y="0" font-size="22" font-weight="bold" fill="#e4d7cf">汇金网</text></svg>
<div class="a" style="left:574px;top:622px;font-size:7.6px;line-height:8px;color:#efe2da;font-weight:bold">www.gold678.com</div>
</div></body></html>
